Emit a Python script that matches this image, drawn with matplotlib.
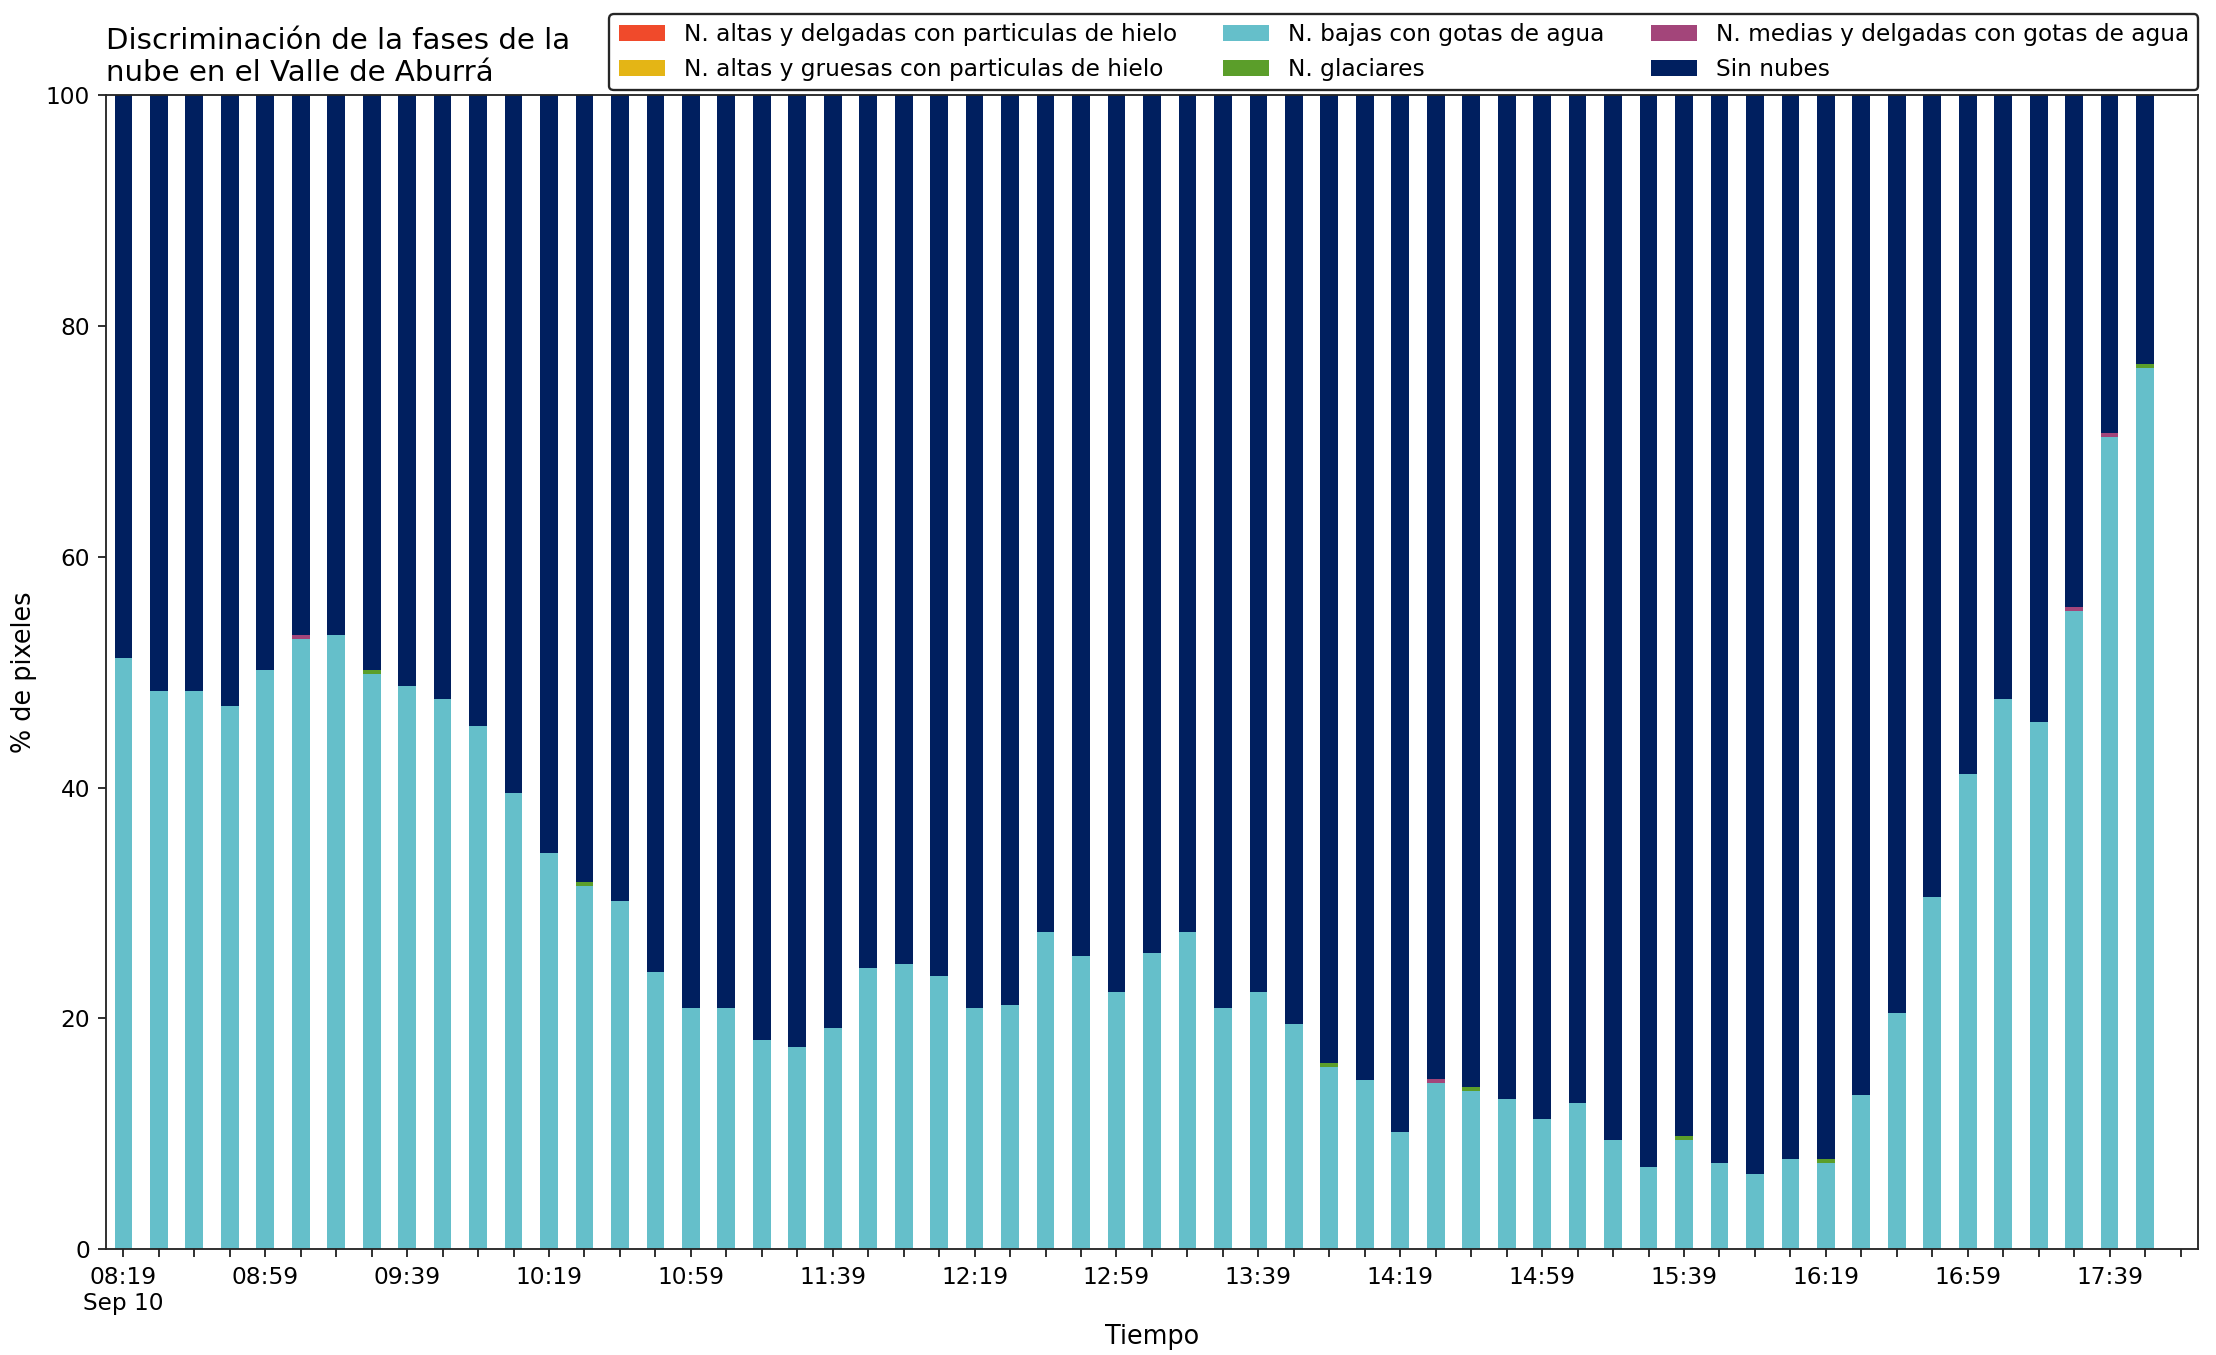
import matplotlib
matplotlib.use("Agg")
import matplotlib.pyplot as plt
import matplotlib.dates as mdates
import matplotlib.ticker as mticker
import numpy as np
import pandas as pd

# ── Datos ─────────────────────────────────────────────────────────────────────
TIMES = pd.date_range("2018-09-10 08:19", periods=58, freq="10min")

ALTAS_DELGADAS = [0.0] * 58
ALTAS_GRUESAS = [0.0] * 58
BAJAS = [
    51.2, 48.4, 48.4, 47.05, 50.2, 52.85, 53.2, 49.8, 48.8, 47.7,
    45.3, 39.5, 34.3, 31.5, 30.2, 24.0, 20.9, 20.9, 18.1, 17.5,
    19.15, 24.35, 24.7, 23.65, 20.9, 21.2, 27.5, 25.4, 22.3, 25.7,
    27.5, 20.9, 22.3, 19.5, 15.75, 14.7, 10.2, 14.4, 13.7, 13.0,
    11.3, 12.65, 9.5, 7.1, 9.5, 7.45, 6.5, 7.8, 7.45, 13.35,
    20.5, 30.5, 41.2, 47.7, 45.7, 55.3, 70.4, 76.3,
]
GLACIARES = [0.0] * 58
for i in (7, 13, 34, 38, 44, 48, 57):
    GLACIARES[i] = 0.35
MEDIAS = [0.0] * 58
for i in (5, 37, 55, 56):
    MEDIAS[i] = 0.35

LABELS = [
    "N. altas y delgadas con particulas de hielo",
    "N. altas y gruesas con particulas de hielo",
    "N. bajas con gotas de agua",
    "N. glaciares",
    "N. medias y delgadas con gotas de agua",
    "Sin nubes",
]
COLORS = ["#f04a2b", "#e4b515", "#65bfca", "#5b9e2a", "#a3457a", "#001f5f"]

# ── Figura ────────────────────────────────────────────────────────────────────
series = [np.array(s) for s in (ALTAS_DELGADAS, ALTAS_GRUESAS, BAJAS, GLACIARES, MEDIAS)]
sin_nubes = 100 - sum(series)
series.append(sin_nubes)

fig = plt.figure(figsize=(2216 / 167, 1355 / 167), dpi=167)
ax = fig.add_axes([0.048, 0.078, 0.944, 0.852])

x = mdates.date2num(TIMES.to_pydatetime())
width = 5 / 1440
bottom = np.zeros(len(x))
for vals, color, label in zip(series, COLORS, LABELS):
    ax.bar(x, vals, width=width, bottom=bottom, color=color, label=label, linewidth=0)
    bottom += vals

step = 10 / 1440
ax.set_xlim(x[0] - 0.48 * step, x[-1] + 1.5 * step)
ax.set_ylim(0, 100)

ticks = np.append(x, x[-1] + step)
ax.xaxis.set_major_locator(mticker.FixedLocator(ticks))


def fmt(val, pos):
    if pos is None or pos % 4:
        return ""
    d = mdates.num2date(val)
    s = d.strftime("%H:%M")
    if pos == 0:
        s += "\nSep 10"
    return s


ax.xaxis.set_major_formatter(mticker.FuncFormatter(fmt))
ax.set_yticks([0, 20, 40, 60, 80, 100])

for sp in ax.spines.values():
    sp.set_color("#262626")
ax.tick_params(colors="#262626", labelcolor="black")

ax.set_xlabel("Tiempo", fontsize=11)
ax.set_ylabel("% de pixeles", fontsize=11)
ax.set_title("Discriminación de la fases de la\nnube en el Valle de Aburrá",
             loc="left", fontsize=12.6)

leg = ax.legend(ncol=3, loc="lower right", bbox_to_anchor=(1.0, 1.004),
                borderaxespad=0, fancybox=True, framealpha=1)
leg.get_frame().set_edgecolor("#262626")

fig.savefig("out.png", dpi=167)
